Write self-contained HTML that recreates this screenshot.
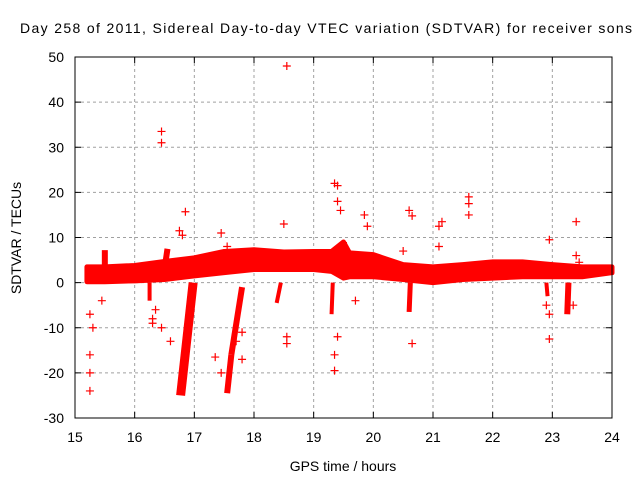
<!DOCTYPE html>
<html><head><meta charset="utf-8"><style>
body{margin:0;background:#fff}
svg{display:block;font-family:"Liberation Sans",sans-serif}
</style></head><body>
<svg id="chart" width="640" height="480">
<rect width="640" height="480" fill="#fff"/>
<text x="326" y="33" text-anchor="middle" font-size="14" textLength="612">Day 258 of 2011, Sidereal Day-to-day VTEC variation (SDTVAR) for receiver sons</text>
<text x="343" y="471" text-anchor="middle" font-size="14">GPS time / hours</text>
<text x="21" y="238" text-anchor="middle" font-size="14" transform="rotate(-90 21 238)">SDTVAR / TECUs</text>
<g id="grid"></g><g id="marks"></g><g id="axes"></g>
</svg>
<script>
const xTicks=[15,16,17,18,19,20,21,22,23,24];
const yTicks=[-30,-20,-10,0,10,20,30,40,50];
const bandHours=[15.2,15.5,16,16.5,17,17.5,18,18.5,19,19.3,19.5,19.6,20,20.5,21,21.5,22,22.5,23,23.5,24];
const bandHigh=[3.5,3.5,3.8,4.7,5.5,6.9,7.3,6.8,6.9,6.9,9,6.6,6.2,4,3.5,4,4.6,4.6,4,3.5,3.5];
const bandLow=[0.2,0.2,0.4,0.7,1.5,2.2,2.9,2.9,2.9,2.5,1,1.3,1.3,0.7,0,0.7,1,1.3,1.3,1.3,2.2];
const spikeTopHour=[16.98,17.8,17.62,18.45,19.32,20.62,23.27,15.5,16.5,19.5,16.25,22.9];
const spikeTopVal=[0,-1,-16,0,0,0,0,2,3,3,0,0];
const spikeBotHour=[16.77,17.62,17.55,18.38,19.3,20.6,23.25,15.5,16.55,19.5,16.25,22.92];
const spikeBotVal=[-25,-16,-24.5,-4.5,-7,-6.5,-7,7.2,7.5,9,-4,-3];
const spikeWidth=[9,6,6,4,4,5,6,6,6,7,4,4];
const ptHours=[15.25,15.25,15.25,15.3,15.25,16.45,16.45,16.85,18.55,18.5,18.55,18.55,19.35,19.4,19.4,19.45,19.35,19.35,19.4,19.85,19.9,20.6,20.65,20.65,21.1,21.15,21.1,21.6,21.6,21.6,22.95,22.95,23.4,23.4,22.9,22.95,17.45,17.55,17.8,17.8,16.45,16.6,16.35,16.3,15.45,17.35,17.45,16.3,16.75,16.8,19.7,20.5,17.7,23.35,23.45];
const ptVals=[-24,-16,-20,-10,-7,33.5,31,15.7,48,13,-12,-13.5,22,21.5,18,16,-16,-19.5,-12,15,12.5,16,14.8,-13.5,12.5,13.5,8,19,17.5,15,9.5,-12.5,13.5,6,-5,-7,11,8,-11,-17,-10,-13,-6,-8,-4,-16.5,-20,-9,11.5,10.5,-4,7,-13,-5,4.5];
const L=75,R=612,T=57,B=418;
const X=h=>L+(h-15)*(R-L)/9, Y=v=>B-(v+30)*(B-T)/80;
const NS='http://www.w3.org/2000/svg';
function mk(p,t,a){const e=document.createElementNS(NS,t);for(const k in a)e.setAttribute(k,a[k]);p.appendChild(e);return e;}
const grid=document.getElementById('grid'),marks=document.getElementById('marks'),axes=document.getElementById('axes');
xTicks.forEach(t=>{
 if(t>15&&t<24){const g=mk(grid,'line',{x1:X(t),x2:X(t),y1:T,y2:B,stroke:'#a0a0a0','stroke-dasharray':'3,3'});
 
 }
 const tx=mk(axes,'text',{x:X(t),y:442,'text-anchor':'middle','font-size':14});tx.textContent=t;
 
 
 mk(axes,'line',{x1:X(t),x2:X(t),y1:B,y2:B-6,stroke:'#000'});mk(axes,'line',{x1:X(t),x2:X(t),y1:T,y2:T+6,stroke:'#000'});
});
yTicks.forEach(t=>{
 if(t>-30&&t<50){const g=mk(grid,'line',{x1:L,x2:R,y1:Y(t),y2:Y(t),stroke:'#a0a0a0','stroke-dasharray':'3,3'});
 
 }
 const tx=mk(axes,'text',{x:64,y:Y(t)+5,'text-anchor':'end','font-size':14});tx.textContent=t;
 
 
 mk(axes,'line',{x1:L,x2:L+6,y1:Y(t),y2:Y(t),stroke:'#000'});mk(axes,'line',{x1:R,x2:R-6,y1:Y(t),y2:Y(t),stroke:'#000'});
});
const fr=mk(axes,'rect',{x:L,y:T,width:R-L,height:B-T,fill:'none',stroke:'#000'});


let d='';bandHours.forEach((h,i)=>d+=(i?'L':'M')+X(h)+','+Y(bandHigh[i]));
for(let i=bandHours.length-1;i>=0;i--)d+='L'+X(bandHours[i])+','+Y(bandLow[i]);
const band=mk(marks,'path',{d:d+'Z',fill:'#f00',stroke:'#f00','stroke-width':5,'stroke-linejoin':'round'});


spikeTopHour.forEach((h,i)=>{
 const s=mk(marks,'line',{x1:X(h),y1:Y(spikeTopVal[i]),x2:X(spikeBotHour[i]),y2:Y(spikeBotVal[i]),stroke:'#f00','stroke-width':spikeWidth[i]});
 
 
});
ptHours.forEach((h,i)=>{
 const x=X(h),y=Y(ptVals[i]);
 const p=mk(marks,'path',{d:`M${x-4},${y}H${x+4}M${x},${y-4}V${y+4}`,stroke:'#f00','stroke-width':1.2});
 
 
});
</script>
</body></html>
